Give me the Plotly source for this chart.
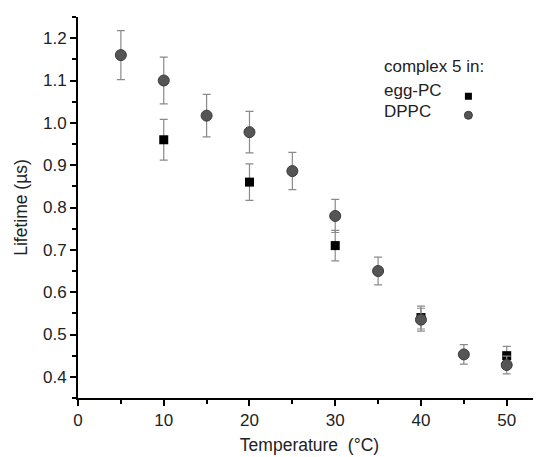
import plotly.graph_objects as go

temp_dppc = [5, 10, 15, 20, 25, 30, 35, 40, 45, 50]
life_dppc = [1.16, 1.10, 1.017, 0.978, 0.886, 0.78, 0.65, 0.535, 0.453, 0.428]
err_dppc = [0.058, 0.055, 0.05, 0.049, 0.044, 0.039, 0.033, 0.027, 0.023, 0.021]

temp_egg = [10, 20, 30, 40, 50]
life_egg = [0.96, 0.86, 0.71, 0.54, 0.45]
err_egg = [0.048, 0.043, 0.036, 0.027, 0.022]

FONT = "Liberation Sans, Arial, sans-serif"
TXT = "#222222"

fig = go.Figure()
fig.add_trace(go.Scatter(
    x=temp_egg, y=life_egg, mode="markers", name="", showlegend=False,
    marker=dict(symbol="square", size=9, color="#000000"),
    error_y=dict(type="data", array=err_egg, color="#8a8a8a", thickness=1.2, width=4),
))
fig.add_trace(go.Scatter(
    x=temp_dppc, y=life_dppc, mode="markers", name="", showlegend=False,
    marker=dict(symbol="circle", size=11, color="#555555",
                line=dict(color="#3a3a3a", width=1)),
    error_y=dict(type="data", array=err_dppc, color="#8a8a8a", thickness=1.2, width=4),
))
# legend-only entries (smaller keys, as in the reference legend)
fig.add_trace(go.Scatter(x=[None], y=[None], mode="markers", name="",
                         marker=dict(symbol="square", size=7, color="#000000")))
fig.add_trace(go.Scatter(x=[None], y=[None], mode="markers", name="",
                         marker=dict(symbol="circle", size=8, color="#555555",
                                     line=dict(color="#3a3a3a", width=1))))

axis_common = dict(
    showline=True, linecolor="#000000", linewidth=2,
    ticks="outside", ticklen=6, tickwidth=2, tickcolor="#000000",
    showgrid=False, zeroline=False, mirror=False, automargin=False,
    tickfont=dict(family=FONT, size=17, color=TXT),
)

fig.update_layout(
    width=533, height=449,
    margin=dict(l=70, r=0, t=9, b=59),
    paper_bgcolor="white", plot_bgcolor="white",
    font=dict(family=FONT, color=TXT),
    showlegend=True,
    legend=dict(x=0.80, y=0.830, xanchor="left", yanchor="top",
                bgcolor="rgba(0,0,0,0)", font=dict(size=10, family=FONT),
                itemwidth=30, tracegroupgap=0),
    xaxis=dict(range=[0, 54], dtick=10, tick0=0,
               minor=dict(dtick=5, ticks="outside", ticklen=4, tickwidth=2, tickcolor="#000000"),
               title=dict(text="Temperature  (°C)", font=dict(family=FONT, size=17.5, color=TXT),
                          standoff=9),
               **axis_common),
    yaxis=dict(range=[0.35, 1.25], dtick=0.1, tick0=0.4, tickformat=".1f",
               minor=dict(dtick=0.05, ticks="outside", ticklen=4, tickwidth=2, tickcolor="#000000"),
               title=dict(text="Lifetime (µs)", font=dict(family=FONT, size=17.5, color=TXT),
                          standoff=11),
               **axis_common),
    annotations=[
        dict(text="complex 5 in:", xref="paper", yref="paper", x=0.657, y=0.869,
             xanchor="left", yanchor="middle", showarrow=False,
             font=dict(family=FONT, size=17, color=TXT)),
        dict(text="egg-PC", xref="paper", yref="paper", x=0.657, y=0.806,
             xanchor="left", yanchor="middle", showarrow=False,
             font=dict(family=FONT, size=17, color=TXT)),
        dict(text="DPPC", xref="paper", yref="paper", x=0.657, y=0.753,
             xanchor="left", yanchor="middle", showarrow=False,
             font=dict(family=FONT, size=17, color=TXT)),
    ],
)

fig.write_html("out.html")
